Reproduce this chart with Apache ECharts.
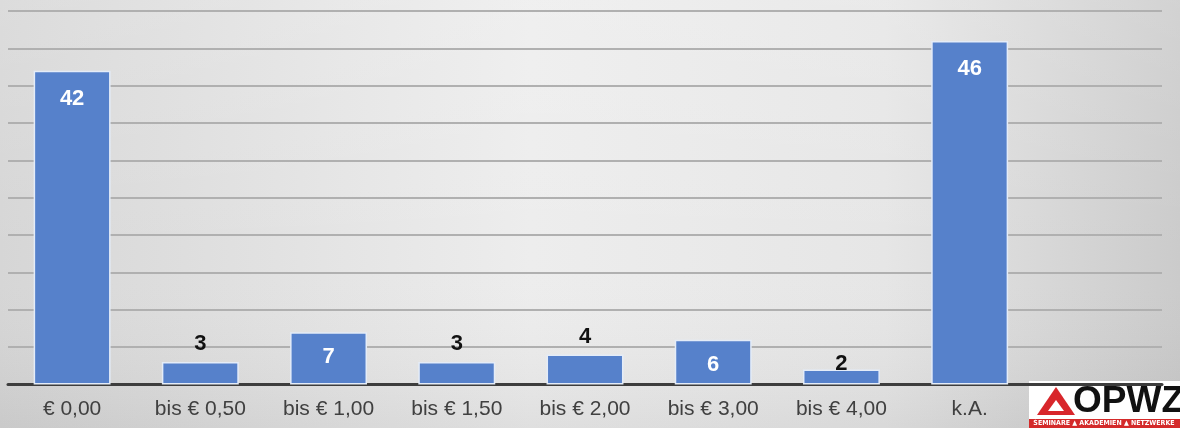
<!DOCTYPE html>
<html>
<head>
<meta charset="utf-8">
<script src="https://cdn.jsdelivr.net/npm/echarts@6/dist/echarts.min.js"></script>
<style>
  html, body { margin: 0; padding: 0; }
  #chart { width: 1180px; height: 428px; }
</style>
</head>
<body>
<div id="chart"></div>
<script>
// Price brackets (the last slot stays empty, space for the logo)
const categories = ['€ 0,00', 'bis € 0,50', 'bis € 1,00', 'bis € 1,50', 'bis € 2,00', 'bis € 3,00', 'bis € 4,00', 'k.A.', ''];
const counts = [42, 3, 7, 3, 4, 6, 2, 46, null];
const yTicks = { min: 0, max: 50, step: 5 };

const chart = echarts.init(document.getElementById('chart'));
const FONT = 'Liberation Sans, Arial, sans-serif';

// Tall bars carry their value inside in white, short ones above in black
const insideThreshold = 5;
const barData = counts.map((v) => {
  if (v == null) return v;
  const inside = v >= insideThreshold;
  return {
    value: v,
    label: inside
      ? { position: 'insideTop', distance: v >= 10 ? 17 : 14, color: '#ffffff' }
      : { position: 'top', distance: v <= 2 ? -5 : 7, color: '#111111' }
  };
});

chart.setOption({
  backgroundColor: {
    type: 'linear', x: 0, y: 0, x2: 1, y2: 0,
    colorStops: [
      { offset: 0, color: '#d6d6d6' },
      { offset: 0.45, color: '#ededed' },
      { offset: 0.75, color: '#e6e6e6' },
      { offset: 1, color: '#cbcbcb' }
    ]
  },
  animation: false,
  grid: { left: 8, right: 18, top: 11, bottom: 43.5, containLabel: false },
  xAxis: {
    type: 'category',
    data: categories,
    axisLine: { show: true, lineStyle: { color: '#3d3d3d', width: 3 } },
    axisTick: { show: false },
    axisLabel: { color: '#404040', fontSize: 21, margin: 14, fontFamily: FONT, interval: 0 }
  },
  yAxis: {
    type: 'value',
    min: yTicks.min, max: yTicks.max, interval: yTicks.step,
    axisLine: { show: false },
    axisTick: { show: false },
    axisLabel: { show: false },
    splitLine: { lineStyle: { color: '#b0b0b0', width: 2 } }
  },
  series: [{
    type: 'bar',
    data: barData,
    barWidth: '60%',
    itemStyle: { color: '#5681cb', borderColor: '#e4ecf8', borderWidth: 1.5 },
    label: { show: true, fontSize: 22, fontWeight: 'bold', fontFamily: FONT }
  }],
  graphic: [
    // soft vertical shading over the background
    { type: 'rect', z: -10, silent: true,
      shape: { x: 0, y: 0, width: 1180, height: 428 },
      style: { fill: { type: 'linear', x: 0, y: 0, x2: 0, y2: 1,
        colorStops: [
          { offset: 0, color: 'rgba(255,255,255,0.15)' },
          { offset: 0.6, color: 'rgba(255,255,255,0)' },
          { offset: 1, color: 'rgba(0,0,0,0.06)' }
        ] } } },
    // OPWZ logo
    { type: 'group', left: 1029, top: 381, z: 100,
      children: [
        { type: 'rect', shape: { x: 0, y: 0, width: 151, height: 47 }, style: { fill: '#ffffff' } },
        { type: 'polygon', shape: { points: [[27, 6], [46, 34], [8, 34]] }, style: { fill: '#d8262b' } },
        { type: 'polygon', shape: { points: [[27, 19], [35, 30], [19, 30]] }, style: { fill: '#ffffff' } },
        { type: 'text', x: 44, y: 2,
          style: { text: 'OPWZ', fontSize: 37, fontWeight: 900, fontFamily: FONT, fill: '#111111' } },
        { type: 'rect', shape: { x: 0, y: 38, width: 151, height: 9 }, style: { fill: '#d42a2a' } },
        { type: 'text', x: 75, y: 39,
          style: { text: 'SEMINARE ▲ AKADEMIEN ▲ NETZWERKE', fontSize: 7, fontWeight: 'bold',
            fontFamily: 'DejaVu Sans Condensed, DejaVu Sans, sans-serif', fill: '#ffffff', align: 'center' } }
      ] }
  ]
});
</script>
</body>
</html>
